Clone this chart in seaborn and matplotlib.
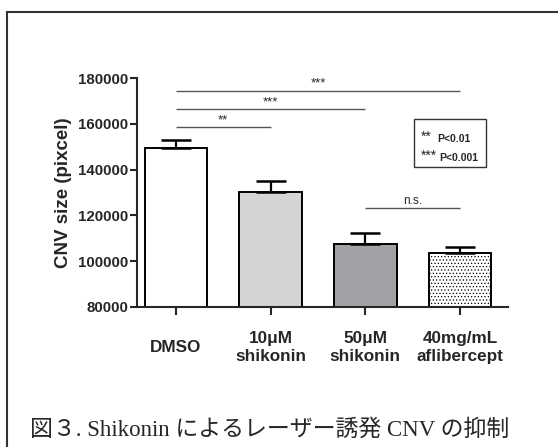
import matplotlib
matplotlib.use('Agg')
import matplotlib.pyplot as plt
import seaborn as sns
from matplotlib.patches import Rectangle

# data
groups = ['DMSO', '10\u03bcM\nshikonin', '50\u03bcM\nshikonin', '40mg/mL\naflibercept']
means = [149400, 130100, 107400, 103700]
sem = [3500, 4900, 5000, 2500]
bar_colors = ['#ffffff', '#d4d4d4', '#a2a2a6', '#ffffff']

# significance brackets: (start group, end group, height, label)
sig_pairs = [(0, 3, 174500, '***'), (0, 2, 166300, '***'), (0, 1, 158500, '**'), (2, 3, 123100, 'n.s.')]
yticks = [80000, 100000, 120000, 140000, 160000, 180000]

sns.set_style('ticks')
plt.rcParams['font.family'] = ['Liberation Sans', 'DejaVu Sans']
plt.rcParams['hatch.linewidth'] = 0.5

fig = plt.figure(figsize=(5.58, 4.47), dpi=100)
ax = fig.add_axes([137/558, 1 - 307/447, (508-137)/558, (307-78)/447])

sns.barplot(x=list(range(len(groups))), y=means, hue=list(range(len(groups))),
            palette=bar_colors, edgecolor='black', linewidth=1.4,
            width=0.665, legend=False, ax=ax, saturation=1)
ax.patches[3].set_hatch('.....')

ax.errorbar(range(len(groups)), means, yerr=[[0]*4, sem], fmt='none',
            ecolor='black', elinewidth=1.6, capsize=11, capthick=1.8, zorder=1)

for i, j, h, lab in sig_pairs:
    ax.plot([i, j], [h, h], color='#555555', lw=1.0, solid_capstyle='butt')
    ax.text((i + j) / 2, h + 400, lab, ha='center', va='bottom',
            fontsize=8.5 if lab == 'n.s.' else 9.5)

ax.set_ylim(80000, 180000)
ax.set_xlim(-0.412, 3.507)
ax.set_yticks(yticks)
ax.set_yticklabels([str(t) for t in yticks], fontsize=10.8, fontweight='bold')
ax.set_xticks(range(len(groups)))
ax.set_xticklabels(groups, fontsize=12.3, fontweight='bold', linespacing=1.25)
for lbl in ax.get_xticklabels():
    lbl.set_va('center')
ax.tick_params(axis='x', length=6, width=1.5, pad=23)
ax.tick_params(axis='y', length=5, width=1.5, pad=1.5)
ax.set_ylabel('CNV size (pixcel)', fontsize=13.5, fontweight='bold', labelpad=4)
ax.set_xlabel('')
sns.despine(ax=ax)
for s in ['left', 'bottom']:
    ax.spines[s].set_linewidth(1.5)

# p-value key
ax.add_patch(Rectangle((0.747, 0.61), 0.195, 0.21, transform=ax.transAxes,
                       fill=False, edgecolor='#333333', lw=1.0))
ax.text(0.765, 0.745, '**', transform=ax.transAxes, fontsize=10, va='center')
ax.text(0.81, 0.735, 'P<0.01', transform=ax.transAxes, fontsize=7.5,
        fontweight='bold', va='center')
ax.text(0.765, 0.66, '***', transform=ax.transAxes, fontsize=10, va='center')
ax.text(0.815, 0.65, 'P<0.001', transform=ax.transAxes, fontsize=7.5,
        fontweight='bold', va='center')

# outer frame and caption
fig.add_artist(Rectangle((7/558, -0.2), 1.2, 1.2 - 12/447, transform=fig.transFigure,
                         fill=False, edgecolor='#333333', lw=1.5))
fig.text(30/558, 1 - 430/447, '\u56f3\uff13. Shikonin \u306b\u3088\u308b\u30ec\u30fc\u30b6\u30fc\u8a98\u767a CNV \u306e\u6291\u5236',
         fontsize=16.5, va='center', ha='left',
         family=['Liberation Serif', 'Noto Sans CJK JP'])

fig.savefig('out.png', dpi=100)
